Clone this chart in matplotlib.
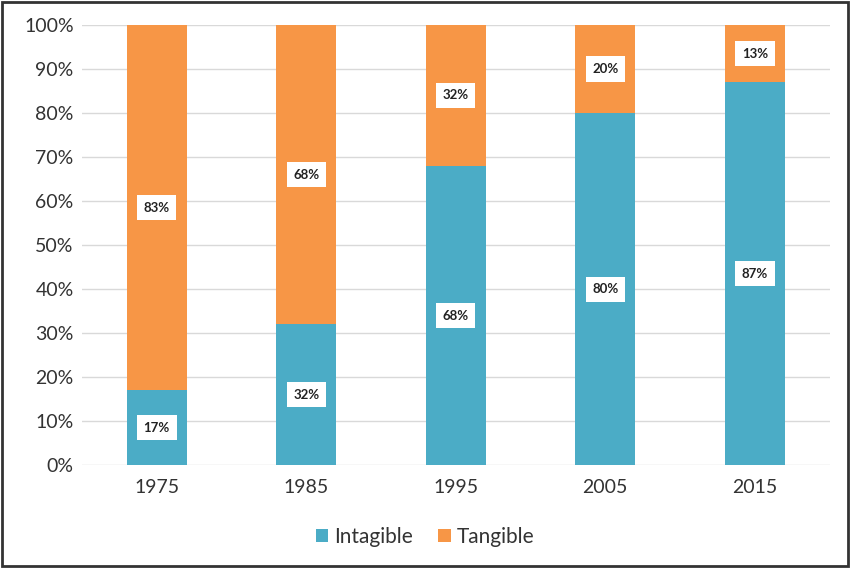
import numpy as np
import matplotlib.pyplot as plt
from matplotlib.patches import Rectangle

years = ['1975', '1985', '1995', '2005', '2015']
intangible = [17, 32, 68, 80, 87]
tangible = [83, 68, 32, 20, 13]

blue = '#4BACC6'
orange = '#F79646'

plt.rcParams['font.family'] = ['Lato', 'DejaVu Sans']

fig = plt.figure(figsize=(8.5, 5.68), dpi=100)
ax = fig.add_axes([0.0965, 0.181, 0.8795, 0.775])

x = np.arange(len(years))
ax.bar(x, intangible, width=0.4, color=blue, label='Intagible', zorder=3)
ax.bar(x, tangible, width=0.4, bottom=intangible, color=orange, label='Tangible', zorder=3)

# data labels in white boxes
box = dict(boxstyle='square,pad=0.5', fc='white', ec='none')
for i in range(len(years)):
    ax.text(x[i], intangible[i] / 2, '%d%%' % intangible[i], ha='center', va='center',
            fontsize=9.5, fontweight='bold', color='#222222', bbox=box, zorder=4)
    ax.text(x[i], intangible[i] + tangible[i] / 2, '%d%%' % tangible[i], ha='center', va='center',
            fontsize=9.5, fontweight='bold', color='#222222', bbox=box, zorder=4)

ax.set_xlim(-0.5, 4.5)
ax.set_ylim(0, 100)
ax.set_yticks(range(0, 101, 10))
ax.set_yticklabels(['%d%%' % v for v in range(0, 101, 10)])
ax.set_xticks(x)
ax.set_xticklabels(years)
ax.tick_params(axis='both', length=0, labelsize=14, colors='#333333')
ax.tick_params(axis='x', pad=10)
ax.tick_params(axis='y', pad=6)
ax.grid(axis='y', color='#d9d9d9', linewidth=1, zorder=0)
for s in ax.spines.values():
    s.set_visible(False)

ax.legend(loc='center', bbox_to_anchor=(0.5, 0.055), bbox_transform=fig.transFigure,
          ncol=2, frameon=False, fontsize=15, handlelength=0.6, handleheight=0.6,
          handletextpad=0.3, columnspacing=1.2, labelcolor='#333333')

fig.patches.append(Rectangle((0.002, 0.003), 0.996, 0.994, transform=fig.transFigure,
                             fill=False, ec='#333333', lw=2))

fig.savefig('out.png', dpi=100)
